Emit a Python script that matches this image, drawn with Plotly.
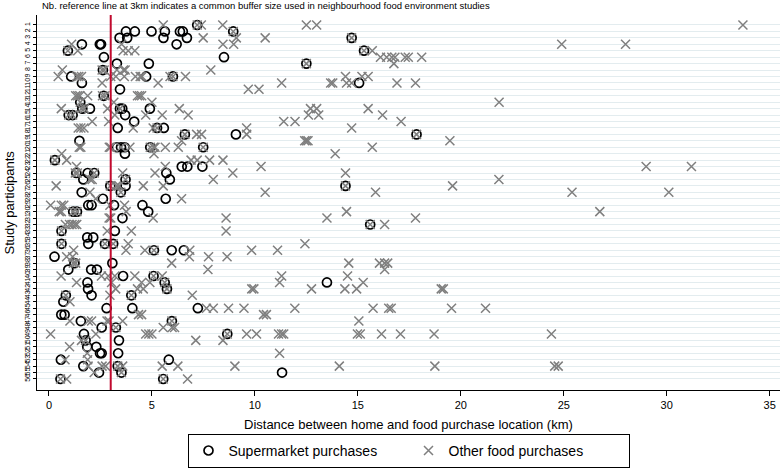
import plotly.graph_objects as go

participants = list(range(1, 57))
x_ticks = [0, 5, 10, 15, 20, 25, 30, 35]
reference_km = 3

# distances (km) per participant, index 0 -> participant 1
supermarket_km = [
    [7.2],
    [3.74, 4.17, 4.98, 5.63, 6.36, 6.5, 8.95],
    [3.43, 3.8, 5.56, 6.7, 14.7],
    [1.6, 2.47, 2.53, 6.2],
    [0.92, 15.3],
    [2.67, 8.5],
    [3.3, 4.85, 12.5],
    [2.62],
    [1.08, 4.72, 6.02],
    [1.6, 15.06],
    [3.45],
    [2.66],
    [1.52],
    [1.62, 1.99, 3.45, 3.56, 4.9],
    [0.96, 1.15, 3.7],
    [4.14],
    [3.34, 5.25, 5.58],
    [6.6, 9.08, 17.85],
    [1.48],
    [3.3, 3.5, 3.68, 4.92, 7.49],
    [3.69],
    [0.29],
    [6.45, 6.72, 7.45],
    [1.33, 1.88, 2.2, 5.7],
    [1.67, 3.72, 5.87],
    [2.98, 3.72, 14.4],
    [1.59, 3.49],
    [2.62, 5.67],
    [1.91, 2.07, 3.16, 4.54],
    [1.18, 1.36, 4.82],
    [3.57],
    [15.6],
    [0.61, 3.2],
    [1.86, 2.15],
    [0.61, 1.91, 2.72, 3.12],
    [5.1, 5.96, 6.55],
    [0.27],
    [1.24, 3.08],
    [0.94, 2.05, 2.33],
    [3.6, 5.08],
    [1.87, 5.62, 13.5],
    [1.9, 5.73],
    [0.82, 2.07, 4.0],
    [0.7],
    [2.8, 4.05, 7.23],
    [0.6, 0.76],
    [1.55, 5.97],
    [2.56, 3.25],
    [1.7, 8.66],
    [1.78, 3.4],
    [1.86, 2.3],
    [2.48, 2.56, 3.36],
    [0.58, 5.82],
    [1.67, 3.34],
    [2.43, 3.52, 11.32],
    [0.56, 5.55],
]

other_km = [
    [5.55, 7.2, 7.4, 8.44, 12.5, 13.0, 33.7],
    [8.95],
    [7.49, 9.1, 10.5, 14.7],
    [1.1, 3.53, 8.45, 8.97, 24.9, 28.0],
    [0.92, 1.4, 3.6, 3.85, 4.17, 15.3, 15.7],
    [16.1, 16.4, 16.65, 16.8, 17.3, 17.45, 18.1],
    [12.5, 16.75],
    [0.65, 2.58, 2.68, 3.3, 3.62, 3.7, 7.86],
    [0.45, 1.35, 1.45, 1.58, 3.0, 3.25, 3.66, 4.2, 4.43, 4.52, 5.88, 6.02, 6.63, 14.4, 15.2, 15.5],
    [2.58, 5.3, 11.3, 13.68, 13.78, 14.45, 14.7, 16.9, 17.8],
    [9.68, 10.2],
    [1.3, 1.4, 1.5, 1.88, 2.6, 2.72, 4.3, 4.4, 4.5],
    [1.52, 3.15, 5.0, 21.86],
    [0.6, 1.58, 1.72, 2.85, 3.45, 6.33, 12.7, 13.0, 15.5],
    [0.96, 1.15, 3.2, 4.7, 5.5, 6.76, 12.6, 13.1, 16.2],
    [2.1, 2.9, 11.4, 11.95, 17.1],
    [1.42, 1.55, 1.7, 4.09, 5.06, 5.25, 9.6, 14.7],
    [6.6, 7.17, 7.41, 9.6, 17.85],
    [6.44, 12.42, 12.5, 12.58, 19.47],
    [1.47, 1.55, 2.93, 3.0, 3.5, 3.93, 4.92, 5.08, 5.15, 5.65, 6.28, 7.49, 15.7],
    [0.62, 5.1, 13.9],
    [0.29, 0.86, 6.9, 7.2, 7.8, 8.45],
    [1.34, 5.65, 10.3, 29.0, 31.2],
    [1.28, 1.38, 2.2, 3.58, 5.15, 8.93, 14.4],
    [2.0, 2.1, 3.72, 7.98, 21.85],
    [0.35, 2.98, 3.28, 3.4, 4.58, 5.55, 14.4, 19.6],
    [1.99, 3.49, 10.5, 15.86, 25.4, 30.1],
    [2.27, 6.44],
    [0.08, 0.6, 0.72, 2.96, 3.67],
    [0.5, 0.6, 1.18, 1.36, 3.75, 14.45, 26.75],
    [2.92, 3.0, 5.06, 8.6, 13.5, 17.8],
    [0.8, 1.0, 1.12, 1.25, 1.35, 15.6, 16.3],
    [0.61, 2.83, 4.0, 8.6],
    [],
    [0.61, 2.72, 3.12, 3.85, 12.43],
    [1.2, 3.74, 4.66, 5.1, 6.84, 9.84, 11.1],
    [0.86, 1.15, 6.82, 7.75, 8.65],
    [1.18, 1.3, 5.96, 14.56, 16.05, 16.3, 16.45],
    [7.72, 16.3],
    [0.59, 2.55, 2.88, 3.2, 4.17, 5.08, 5.5, 11.3, 14.5],
    [1.34, 3.04, 4.5, 4.9, 5.62, 11.2, 15.26],
    [3.24, 4.3, 4.58, 5.73, 9.85, 9.95, 12.75, 14.37, 14.94, 19.05, 19.15],
    [0.82, 2.96, 4.0, 6.96],
    [1.02],
    [7.65, 7.98, 8.72, 9.47, 11.94, 15.74, 16.5, 16.62, 19.55, 21.2],
    [4.35, 4.5, 10.42, 10.56],
    [1.02, 1.91, 2.07, 2.82, 2.92, 3.58, 5.97, 15.05],
    [3.25, 5.55, 5.98, 6.1],
    [0.08, 2.28, 4.7, 4.85, 5.0, 8.66, 9.6, 10.08, 11.15, 11.3, 11.4, 14.98, 15.12, 16.15, 17.07, 18.7, 24.4],
    [1.58, 1.78, 7.13, 8.45],
    [1.0],
    [1.86, 11.2],
    [0.78, 1.88],
    [1.9, 2.58, 2.75, 3.34, 3.58, 5.5, 6.26, 9.03, 14.1, 18.74, 24.56, 24.73],
    [2.2, 3.52],
    [0.56, 0.86, 5.55, 6.73],
]


def flatten(rows):
    xs, ys = [], []
    for pid, vals in zip(participants, rows):
        for v in vals:
            xs.append(v)
            ys.append(pid)
    return xs, ys


sx, sy = flatten(supermarket_km)
ox, oy = flatten(other_km)

FONT = "Liberation Sans, Arial, sans-serif"

fig = go.Figure()
fig.add_trace(go.Scatter(
    x=sx, y=sy, mode="markers", name="Supermarket purchases",
    marker=dict(symbol="circle-open", size=9, color="black",
                line=dict(color="black", width=1.7)),
))
fig.add_trace(go.Scatter(
    x=ox, y=oy, mode="markers", name="Other food purchases",
    marker=dict(symbol="x-thin-open", size=9, color="#7f7f7f",
                line=dict(color="#7f7f7f", width=1.5)),
))

fig.add_shape(type="line", xref="x", yref="paper", x0=reference_km, x1=reference_km,
              y0=0, y1=1, line=dict(color="#c00a2e", width=2), layer="above")

fig.update_layout(
    width=784, height=473,
    margin=dict(l=37, r=4, t=15, b=83),
    paper_bgcolor="white", plot_bgcolor="white",
    font=dict(family=FONT, color="black"),
    showlegend=True,
    legend=dict(orientation="h", x=0.5, xanchor="center", y=-0.117, yanchor="top",
                bordercolor="black", borderwidth=1, font=dict(size=14, family=FONT),
                bgcolor="white", itemwidth=30, entrywidth=175, entrywidthmode="pixels"),
    xaxis=dict(range=[-0.58, 35.5], tickvals=x_ticks, ticktext=[str(t) for t in x_ticks],
               showgrid=False, zeroline=False, showline=True, linecolor="black", linewidth=1,
               ticks="outside", ticklen=5, tickcolor="black", tickfont=dict(size=11)),
    yaxis=dict(range=[57.71, -0.55], tickvals=participants,
               ticktext=[str(p) for p in participants], tickangle=-90,
               showgrid=True, gridcolor="#e3ecef", gridwidth=1, zeroline=False,
               showline=True, linecolor="black", linewidth=1,
               ticks="outside", ticklen=3, tickcolor="black", tickfont=dict(size=7)),
    annotations=[
        dict(text="Nb. reference line at 3km indicates a common buffer size used in neighbourhood food environment studies",
             xref="paper", yref="paper", x=0.004, y=(390 - 6) / 375, xanchor="left", yanchor="middle",
             showarrow=False, font=dict(size=9.5, family=FONT)),
        dict(text="Distance between home and food purchase location (km)",
             xref="paper", yref="paper", x=0.5, y=(390 - 424) / 375, xanchor="center", yanchor="middle",
             showarrow=False, font=dict(size=13, family=FONT)),
        dict(text="Study participants", textangle=-90,
             xref="paper", yref="paper", x=(9 - 37) / 743, y=0.5, xanchor="center", yanchor="middle",
             showarrow=False, font=dict(size=13, family=FONT)),
    ],
)

fig.write_html("out.html", config={"displayModeBar": False},
               post_script="document.body.style.margin='0px';")
